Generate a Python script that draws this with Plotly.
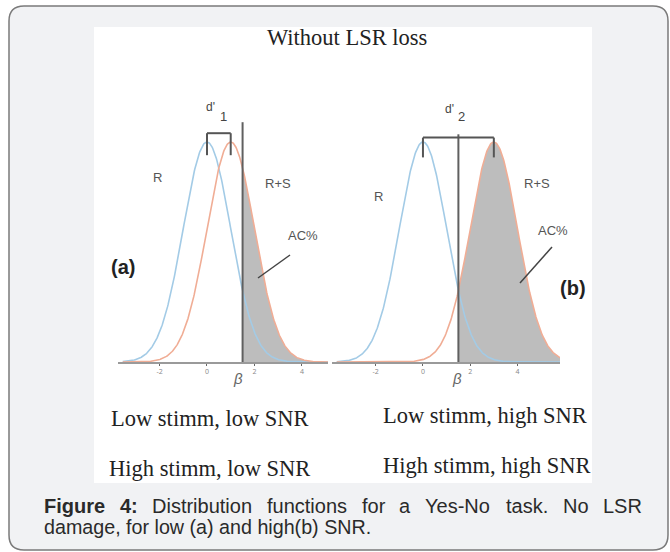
import numpy as np
import plotly.graph_objects as go

# ---------------- data ----------------
panel_tags = ["(a)", "(b)"]
noise_mean = [0.0, 0.0]          # R distribution mean
signal_mean = [1.0, 3.0]         # R+S distribution mean
spread = [1.0, 1.0]              # standard deviation
beta_crit = [1.5, 1.5]           # criterion β
dprime_sub = ["1", "2"]
tick_vals = [-2, 0, 2, 4]
tick_text = ["-2", "0", "2", "4"]
row1_labels = ["Low stimm, low SNR", "Low stimm, high SNR"]
row2_labels = ["High stimm, low SNR", "High stimm, high SNR"]
title_text = "Without LSR loss"
caption_line1 = ["Figure", "4:", "Distribution", "functions", "for", "a", "Yes-No", "task.", "No", "LSR"]
caption_line2 = "damage, for low (a) and high(b) SNR."

# ---------------- layout helpers ----------------
W, H = 670, 552
def px(x): return x / W
def py(y): return 1 - y / H

BLUE = "#a3cbe6"
RED = "#f0ad95"
FILL = "#bdbdbd"
DARK = "#606060"

x_dom = [(118, 328), (332, 560)]
x_rng = [(-3.75, 5.1), (-3.85, 5.8)]
y_dom = [py(362), py(120)]
vline_top = [1.09, 1.035]
bracket_y = [1.04, 1.02]
bracket_low = [0.94, 0.93]

fig = go.Figure()
shapes = []
annotations = []

def gauss(x, m, s):
    return np.exp(-0.5 * ((x - m) / s) ** 2)

for i in range(2):
    xa = "x" if i == 0 else "x2"
    ya = "y" if i == 0 else "y2"
    lo, hi = x_rng[i]
    grid = np.linspace(lo + 0.2, hi, 400)
    gx = grid[grid >= beta_crit[i]]
    gx = np.concatenate([[beta_crit[i]], gx])
    fig.add_trace(go.Scatter(x=gx, y=gauss(gx, signal_mean[i], spread[i]),
                             mode="lines", fill="tozeroy", fillcolor=FILL,
                             line=dict(width=0, color=FILL), xaxis=xa, yaxis=ya,
                             hoverinfo="skip", showlegend=False))
    fig.add_trace(go.Scatter(x=grid, y=gauss(grid, noise_mean[i], spread[i]),
                             mode="lines", line=dict(color=BLUE, width=1.6),
                             xaxis=xa, yaxis=ya, hoverinfo="skip", showlegend=False))
    fig.add_trace(go.Scatter(x=grid, y=gauss(grid, signal_mean[i], spread[i]),
                             mode="lines", line=dict(color=RED, width=1.6),
                             xaxis=xa, yaxis=ya, hoverinfo="skip", showlegend=False))
    shapes.append(dict(type="line", xref=xa, yref=ya, x0=beta_crit[i], x1=beta_crit[i],
                       y0=0, y1=vline_top[i], line=dict(color=DARK, width=2), layer="above"))
    m0, m1 = noise_mean[i], signal_mean[i]
    shapes.append(dict(type="line", xref=xa, yref=ya, x0=m0, x1=m1, y0=bracket_y[i], y1=bracket_y[i],
                       line=dict(color="#555", width=2), layer="above"))
    for m in (m0, m1):
        shapes.append(dict(type="line", xref=xa, yref=ya, x0=m, x1=m, y0=bracket_low[i], y1=bracket_y[i],
                           line=dict(color="#555", width=2), layer="above"))

# ---------------- background ----------------
x0, y0, x1, y1, r = 9, 6, 668, 550, 15
pts = lambda x, y: f"{px(x):.5f},{py(y):.5f}"
path = (f"M {pts(x0+r,y0)} L {pts(x1-r,y0)} Q {pts(x1,y0)} {pts(x1,y0+r)} "
        f"L {pts(x1,y1-r)} Q {pts(x1,y1)} {pts(x1-r,y1)} L {pts(x0+r,y1)} "
        f"Q {pts(x0,y1)} {pts(x0,y1-r)} L {pts(x0,y0+r)} Q {pts(x0,y0)} {pts(x0+r,y0)} Z")
shapes.insert(0, dict(type="path", xref="paper", yref="paper", path=path,
                      fillcolor="#f1f2f4", line=dict(color="#7a7a7a", width=1.5), layer="below"))
shapes.insert(1, dict(type="rect", xref="paper", yref="paper", x0=px(94), x1=px(592),
                      y0=py(483), y1=py(27), fillcolor="white", line=dict(width=0), layer="below"))
for (ax0, ay0, ax1, ay1) in [(290, 255, 258, 278), (552, 247, 520, 283)]:
    shapes.append(dict(type="line", xref="paper", yref="paper", x0=px(ax0), y0=py(ay0),
                       x1=px(ax1), y1=py(ay1), line=dict(color="#444", width=1.5)))

def ann(text, x, y, size, color="#555", family="Liberation Sans, Arial, sans-serif",
        xanchor="center", yanchor="middle"):
    annotations.append(dict(text=text, x=px(x), y=py(y), xref="paper", yref="paper",
                            showarrow=False, xanchor=xanchor, yanchor=yanchor,
                            font=dict(size=size, color=color, family=family)))

SERIF = "Liberation Serif, Times New Roman, serif"
ann(title_text, 347, 38, 22.5, "#222", SERIF)

ann("d'", 211, 107, 12, "#444")
ann(dprime_sub[0], 223, 116, 13, "#444")
ann("d'", 449, 109, 12, "#444")
ann(dprime_sub[1], 461, 117, 13, "#444")
ann("R", 157, 177, 13)
ann("R+S", 278, 183, 13)
ann("AC%", 303, 235, 13)
ann("R", 378, 197, 13)
ann("R+S", 537, 183, 13)
ann("AC%", 553, 230, 13)
ann("<b>" + panel_tags[0] + "</b>", 123, 267, 20, "#222")
ann("<b>" + panel_tags[1] + "</b>", 573, 288, 20, "#222")
ann("<i>β</i>", 238, 378, 15, "#666")
ann("<i>β</i>", 457, 378, 15, "#666")

ann(row1_labels[0], 109, 418, 22.5, "#222", SERIF, xanchor="left")
ann(row1_labels[1], 381, 415, 22.5, "#222", SERIF, xanchor="left")
ann(row2_labels[0], 107, 468, 22.5, "#222", SERIF, xanchor="left")
ann(row2_labels[1], 381, 465, 22.5, "#222", SERIF, xanchor="left")

word_x = [42, 117.7, 150.3, 265, 359.7, 397.4, 423.3, 504.3, 561.1, 601]
for k, w in enumerate(caption_line1):
    t = f"<b>{w}</b>" if k < 2 else w
    ann(t, word_x[k], 506, 20, "#2a2a2a", xanchor="left")
ann(caption_line2, 42, 527, 19.7, "#2a2a2a", xanchor="left")

axis_common = dict(showgrid=False, zeroline=False, showline=True, linecolor="#9a9a9a", linewidth=2,
                   tickvals=tick_vals, ticktext=tick_text, ticks="outside", ticklen=2,
                   tickcolor="#666", tickfont=dict(size=7, color="#888"))
fig.update_layout(
    width=W, height=H, margin=dict(l=0, r=0, t=0, b=0),
    paper_bgcolor="white", plot_bgcolor="rgba(0,0,0,0)",
    xaxis=dict(domain=[px(x_dom[0][0]), px(x_dom[0][1])], range=list(x_rng[0]), anchor="y", **axis_common),
    xaxis2=dict(domain=[px(x_dom[1][0]), px(x_dom[1][1])], range=list(x_rng[1]), anchor="y2", **axis_common),
    yaxis=dict(domain=y_dom, range=[0, 1.1], visible=False, anchor="x"),
    yaxis2=dict(domain=y_dom, range=[0, 1.1], visible=False, anchor="x2"),
    shapes=shapes, annotations=annotations,
)
fig.write_html("out.html")
